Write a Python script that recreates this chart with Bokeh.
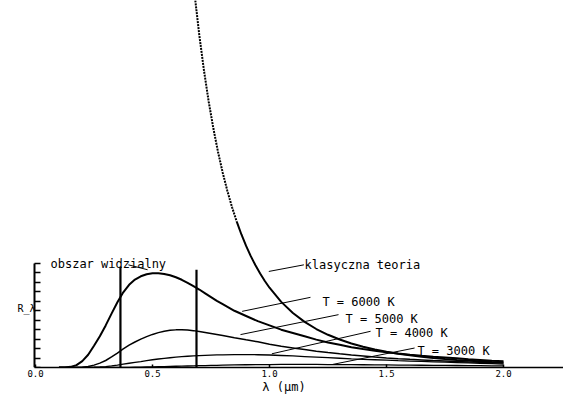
from bokeh.plotting import figure
from bokeh.models import (ColumnDataSource, FixedTicker, LinearAxis,
                          Range1d, NumeralTickFormatter)
from bokeh.core.properties import value
from bokeh.embed import file_html
from bokeh.resources import INLINE

# ---- data ----
lam = [0.100, 0.125, 0.150, 0.175, 0.200, 0.225, 0.250, 0.275, 0.300, 0.325,
       0.350, 0.375, 0.400, 0.425, 0.450, 0.475, 0.500, 0.525, 0.550, 0.575,
       0.600, 0.625, 0.650, 0.675, 0.700, 0.725, 0.750, 0.775, 0.800,
       0.85, 0.90, 0.95, 1.00, 1.05, 1.10, 1.15, 1.20, 1.25, 1.30,
       1.35, 1.40, 1.45, 1.50, 1.55, 1.60, 1.65, 1.70, 1.75, 1.80,
       1.85, 1.90, 1.95, 2.00]
r6000 = [0.0, 0.0, 0.07, 0.25, 0.68, 1.35, 2.3, 3.3, 4.45, 5.7,
         6.9, 7.95, 8.75, 9.3, 9.65, 9.87, 9.97, 9.98, 9.9, 9.75,
         9.55, 9.28, 8.95, 8.6, 8.25, 7.85, 7.45, 7.05, 6.7,
         6.0, 5.45, 4.9, 4.45, 4.0, 3.65, 3.3, 2.95, 2.65, 2.4,
         2.15, 1.95, 1.78, 1.62, 1.48, 1.36, 1.25, 1.15, 1.06, 0.97,
         0.88, 0.8, 0.72, 0.65]
r5000 = [0.0, 0.0, 0.0, 0.0, 0.03, 0.1, 0.25, 0.46, 0.74, 1.12,
         1.53, 1.96, 2.36, 2.7, 3.0, 3.27, 3.5, 3.69, 3.83, 3.93,
         3.98, 4.0, 3.97, 3.9, 3.81, 3.71, 3.6, 3.49, 3.38,
         3.15, 2.93, 2.72, 2.47, 2.24, 2.07, 1.9, 1.73, 1.58, 1.45,
         1.33, 1.22, 1.11, 1.01, 0.93, 0.86, 0.8, 0.74, 0.69, 0.64,
         0.59, 0.55, 0.51, 0.47]
r4000 = [0.0, 0.0, 0.0, 0.0, 0.0, 0.01, 0.03, 0.06, 0.1, 0.17,
         0.25, 0.35, 0.45, 0.54, 0.63, 0.73, 0.82, 0.9, 0.97, 1.03,
         1.09, 1.14, 1.19, 1.23, 1.26, 1.29, 1.31, 1.33, 1.34,
         1.36, 1.36, 1.35, 1.32, 1.27, 1.22, 1.16, 1.1, 1.04, 0.98,
         0.92, 0.87, 0.82, 0.77, 0.72, 0.68, 0.64, 0.6, 0.56, 0.52,
         0.48, 0.44, 0.4, 0.36]
r3000 = [0.0, 0.0, 0.0, 0.0, 0.0, 0.0, 0.0, 0.0, 0.0, 0.0,
         0.01, 0.015, 0.02, 0.03, 0.04, 0.055, 0.07, 0.085, 0.1, 0.115,
         0.13, 0.145, 0.16, 0.175, 0.19, 0.205, 0.22, 0.235, 0.25,
         0.27, 0.29, 0.3, 0.31, 0.32, 0.32, 0.32, 0.32, 0.31, 0.31,
         0.3, 0.29, 0.28, 0.27, 0.26, 0.25, 0.24, 0.23, 0.22, 0.21,
         0.2, 0.19, 0.18, 0.17]

# classical (Rayleigh-Jeans) curve: dotted upper part, solid lower part
lam_cl_dot = [0.68, 0.70, 0.72, 0.74, 0.76, 0.78, 0.80, 0.82, 0.84, 0.86]
cl_dot = [39.47, 35.15, 31.41, 28.14, 25.30, 22.80, 20.61, 18.67, 16.95, 15.43]
lam_cl = [0.86, 0.88, 0.90, 0.92, 0.94, 0.96, 0.98, 1.00, 1.05, 1.10,
          1.15, 1.20, 1.25, 1.30, 1.35, 1.40, 1.45, 1.50, 1.55, 1.60,
          1.65, 1.70, 1.75, 1.80, 1.85, 1.90, 1.95, 2.00]
cl = [15.43, 14.07, 12.86, 11.78, 10.81, 9.94, 9.15, 8.44, 6.94, 5.76,
      4.83, 4.07, 3.46, 2.96, 2.54, 2.20, 1.91, 1.67, 1.46, 1.29,
      1.14, 1.01, 0.90, 0.80, 0.72, 0.65, 0.58, 0.53]

# visible-range borders
vis_x = [0.363, 0.688]
vis_top = [10.65, 10.34]

# annotation texts and their leader lines
ann_text = ["obszar widzialny", "klasyczna teoria", "T = 6000 K",
            "T = 5000 K", "T = 4000 K", "T = 3000 K"]
ann_x = [0.064, 1.15, 1.226, 1.325, 1.453, 1.632]
ann_y = [10.97, 10.86, 6.96, 5.12, 3.69, 1.79]
lead_x0 = [0.397, 0.997, 0.883, 0.876, 1.010, 1.269]
lead_y0 = [10.86, 10.16, 5.94, 3.48, 1.45, 0.32]
lead_x1 = [0.479, 1.147, 1.175, 1.295, 1.432, 1.620]
lead_y1 = [10.34, 10.86, 7.42, 5.59, 3.83, 2.06]

x_ticks = [0.0, 0.5, 1.0, 1.5, 2.0]
y_ticks = [0, 1, 2, 3, 4, 5, 6, 7, 8, 9, 10, 11]
x_label = "λ (µm)"
y_label = "R̲λ"
y_label_pos = (-0.077, 6.2)

FONT = "DejaVu Sans Mono"

X0, X1 = -0.1325, 2.2564
p = figure(width=563, height=396, output_backend="svg", toolbar_location=None,
           x_range=Range1d(X0, X1), y_range=Range1d(0, 38.82),
           x_axis_type=None, y_axis_type=None,
           min_border_left=4, min_border_right=0, min_border_top=0,
           min_border_bottom=28)
p.outline_line_color = None
p.background_fill_color = "white"
p.border_fill_color = "white"

xaxis = LinearAxis(ticker=FixedTicker(ticks=x_ticks),
                   formatter=NumeralTickFormatter(format="0.0"),
                   bounds=(-0.0043, X1),
                   major_tick_in=3, major_tick_out=0,
                   minor_tick_in=0, minor_tick_out=0,
                   axis_line_width=1.5, major_tick_line_width=1.5,
                   major_label_standoff=2,
                   major_label_text_font=FONT,
                   major_label_text_font_size="9px",
                   major_label_text_color="black",
                   axis_label=x_label, axis_label_standoff=0,
                   axis_label_text_font=FONT,
                   axis_label_text_font_size="12px",
                   axis_label_text_font_style="normal",
                   axis_label_text_color="black")
p.add_layout(xaxis, "below")

yaxis = LinearAxis(ticker=FixedTicker(ticks=y_ticks), bounds=(0, 11),
                   fixed_location=-0.0043,
                   major_tick_in=6, major_tick_out=0,
                   minor_tick_in=0, minor_tick_out=0,
                   axis_line_width=2, major_tick_line_width=1.5,
                   major_label_standoff=0,
                   major_label_text_font_size="1px",
                   major_label_text_color=None)
p.add_layout(yaxis, "left")

p.line(lam, r6000, line_color="black", line_width=2)
p.line(lam, r5000, line_color="black", line_width=1.5)
p.line(lam, r4000, line_color="black", line_width=1.3)
p.line(lam, r3000, line_color="black", line_width=1.3)
p.line(lam_cl_dot, cl_dot, line_color="black", line_width=2, line_dash="2 1")
p.line(lam_cl, cl, line_color="black", line_width=2)

p.segment(x0=vis_x, y0=[0, 0], x1=vis_x, y1=vis_top,
          line_color="black", line_width=2.2)

p.segment(x0=lead_x0, y0=lead_y0, x1=lead_x1, y1=lead_y1,
          line_color="black", line_width=1)

src = ColumnDataSource(dict(x=ann_x, y=ann_y, t=ann_text))
p.text(x="x", y="y", text="t", source=src, text_font=value(FONT),
       text_font_size="12px", text_baseline="middle", text_align="left",
       text_color="black")

p.text(x=[y_label_pos[0]], y=[y_label_pos[1]], text=[y_label],
       text_font=value(FONT), text_font_size="10px",
       text_baseline="middle", text_align="left", text_color="black")

open("out.html", "w").write(file_html(p, INLINE))
